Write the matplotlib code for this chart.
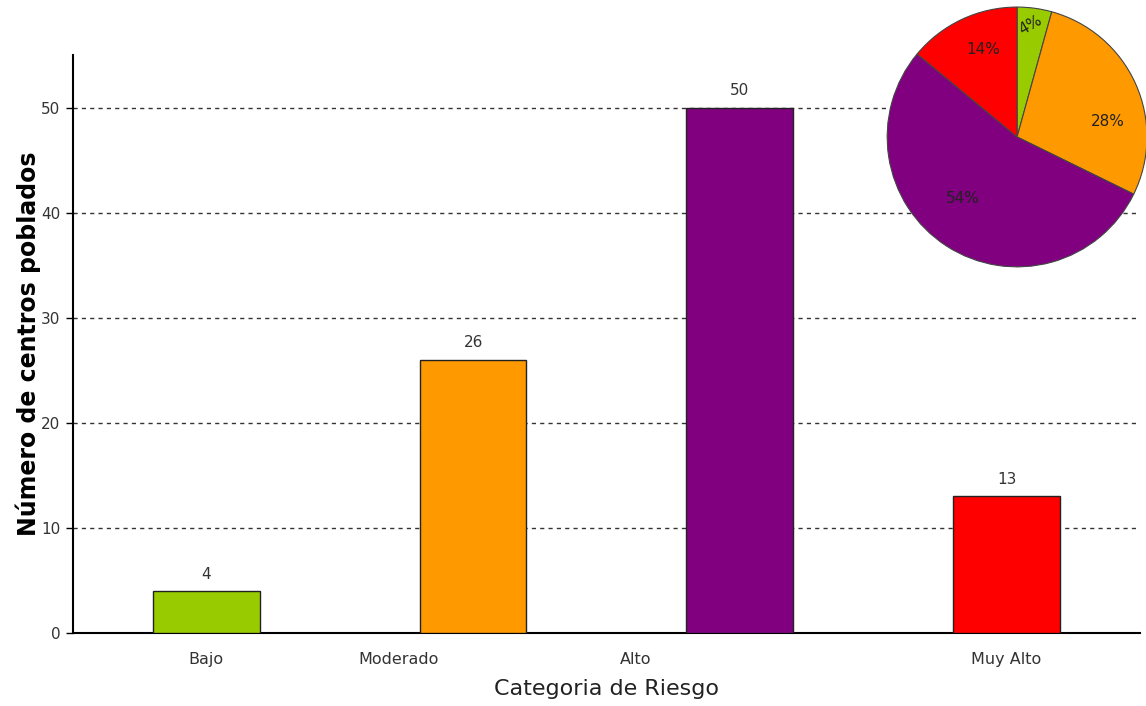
import numpy as np
import matplotlib.pyplot as plt

# Datos
categorias = ['Bajo', 'Moderado', 'Alto', 'Muy Alto']
centros = [4, 26, 50, 13]
colores = ['#99cc00', '#ff9900', '#800080', '#ff0000']
# posiciones de las etiquetas del eje x (desplazadas respecto a las barras)
pos_etiquetas = [0.0, 0.72, 1.61, 3.0]

fig = plt.figure(figsize=(11.46, 7.06), dpi=100)
ax = fig.add_axes([0.0637, 0.1034, 0.931, 0.8186])

x = np.arange(len(categorias))
ax.bar(x, centros, width=0.40, color=colores, edgecolor='#222222', linewidth=1.0, zorder=3)

for xi, v in zip(x, centros):
    ax.text(xi, v + 0.9, str(v), ha='center', va='bottom', fontsize=11, color='#333333')

ax.set_xlim(-0.5, 3.5)
ax.set_ylim(0, 55)
ax.set_yticks([0, 10, 20, 30, 40, 50])
ax.set_xticks(pos_etiquetas)
ax.set_xticklabels(categorias, fontsize=11.5, color='#333333')
ax.tick_params(axis='x', length=0, pad=14)
ax.tick_params(axis='y', length=5, width=1, labelsize=11, labelcolor='#333333', pad=4)

ax.yaxis.grid(True, linestyle=(0, (3, 3)), color='#333333', linewidth=1)
ax.set_axisbelow(True)
for s in ['top', 'right']:
    ax.spines[s].set_visible(False)
ax.spines['left'].set_linewidth(1.5)
ax.spines['bottom'].set_linewidth(1.5)

ax.set_xlabel('Categoria de Riesgo', fontsize=16, color='#222222', labelpad=8)
ax.set_ylabel('Número de centros poblados', fontsize=17, fontweight='bold', labelpad=0)

# Gráfico circular con la proporción de cada categoría
axp = fig.add_axes([0.774, 0.622, 0.227, 0.368])
cuñas, txt, pct = axp.pie(centros, colors=colores, startangle=90, counterclock=False,
                          autopct='%1.0f%%', pctdistance=0.7,
                          wedgeprops=dict(edgecolor='#444444', linewidth=0.8),
                          textprops=dict(fontsize=11, color='#222222'))
# ubicación de los porcentajes dentro de cada sector
pos_pct = [(0.1, 0.86), (0.70, 0.12), (-0.42, -0.47), (-0.26, 0.67)]
for t, p in zip(pct, pos_pct):
    t.set_position(p)
pct[0].set_rotation(30)
axp.set_xlim(-1.0, 1.0)
axp.set_ylim(-1.0, 1.0)
axp.set_aspect('equal')

fig.savefig('out.png', dpi=100)
